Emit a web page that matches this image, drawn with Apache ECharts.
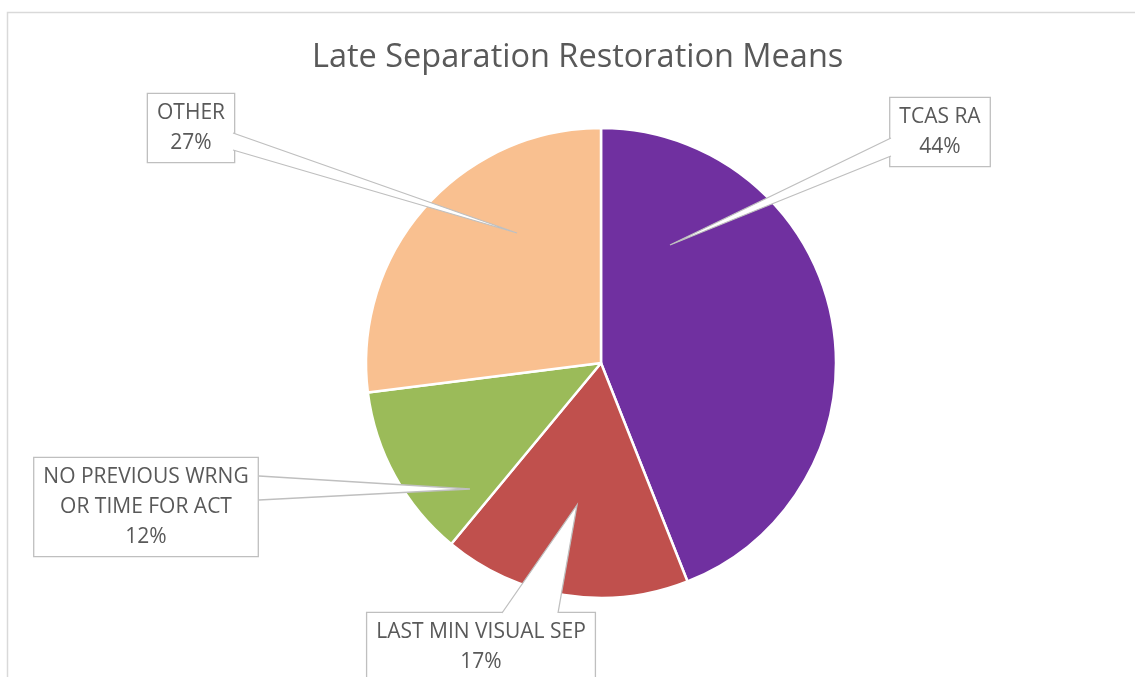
<!DOCTYPE html>
<html>
<head>
<meta charset="utf-8">
<script src="https://cdn.jsdelivr.net/npm/echarts@6/dist/echarts.min.js"></script>
<style>
  html, body { margin: 0; padding: 0; background: #fff; }
  #chart { width: 1135px; height: 677px; }
</style>
</head>
<body>
<div id="chart"></div>
<script>
// data
const categories = ['TCAS RA', 'LAST MIN VISUAL SEP', 'NO PREVIOUS WRNG OR TIME FOR ACT', 'OTHER']
const shares = [44, 17, 12, 27]
const colors = ['#7030A0', '#C0504D', '#9BBB59', '#F9C090']

// callout boxes: centre of box, the two points where the wedge leaves the box, and its tip
const callouts = [
  { x: 940, y: 132, a: [891, 138], b: [891, 156], tip: [670, 245] },
  { x: 481, y: 647, a: [502, 613], b: [558, 613], tip: [577, 505] },
  { x: 146, y: 507, a: [259, 476], b: [259, 500], tip: [470, 489] },
  { x: 191, y: 128, a: [233, 133], b: [233, 150], tip: [517, 233] }
]

const chart = echarts.init(document.getElementById('chart'))

// wedge of each callout: white fill, grey outline, open at the box
const wedges = []
callouts.forEach((c) => {
  wedges.push({
    type: 'polygon',
    z: 100,
    silent: true,
    shape: { points: [c.a, c.tip, c.b] },
    style: { fill: '#fff', stroke: null }
  })
  wedges.push({
    type: 'polyline',
    z: 101,
    silent: true,
    shape: { points: [c.a, c.tip, c.b] },
    style: { fill: null, stroke: '#bfbfbf', lineWidth: 1.3 }
  })
})

const option = {
  animation: false,
  title: {
    text: 'Late Separation Restoration Means',
    left: 307,
    top: 36,
    textStyle: {
      fontFamily: 'Open Sans',
      fontSize: 32.5,
      fontWeight: 'normal',
      color: '#595959'
    }
  },
  graphic: [{
    type: 'rect',
    shape: { x: 7.5, y: 12.5, width: 1200, height: 800 },
    style: { fill: 'none', stroke: '#d9d9d9', lineWidth: 1.5 },
    silent: true
  }].concat(wedges),
  series: [{
    type: 'pie',
    center: [601, 363],
    radius: 235,
    startAngle: 90,
    clockwise: true,
    itemStyle: { borderColor: '#fff', borderWidth: 2.5 },
    data: categories.map((name, i) => ({
      name: name,
      value: shares[i],
      itemStyle: { color: colors[i] }
    })),
    label: {
      show: true,
      position: 'outside',
      formatter: (p) => p.name.replace('WRNG OR', 'WRNG\nOR') + '\n' + Math.round(p.percent) + '%',
      fontFamily: 'Open Sans',
      fontSize: 21,
      lineHeight: 30,
      color: '#595959',
      align: 'center',
      backgroundColor: '#fff',
      borderColor: '#bfbfbf',
      borderWidth: 1.3,
      padding: [5, 9, 3, 9]
    },
    labelLine: { show: false },
    labelLayout: (params) => {
      const c = callouts[params.dataIndex]
      return { x: c.x, y: c.y, align: 'center', verticalAlign: 'middle' }
    }
  }]
}

chart.setOption(option)
</script>
</body>
</html>
